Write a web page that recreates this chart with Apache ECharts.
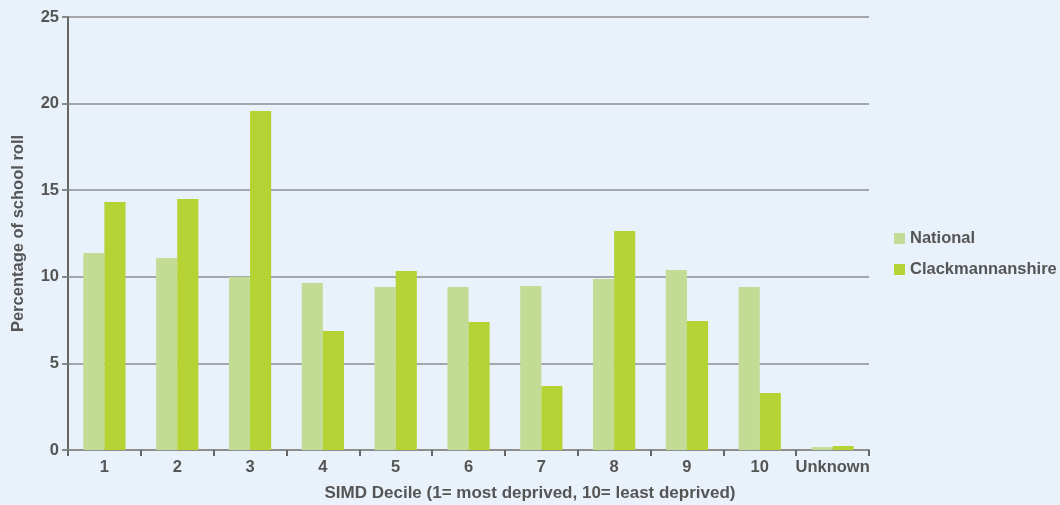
<!DOCTYPE html>
<html>
<head>
<meta charset="utf-8">
<script src="https://cdn.jsdelivr.net/npm/echarts@6/dist/echarts.min.js"></script>
<style>
  html, body { margin: 0; padding: 0; background: #e9f1fa; }
</style>
</head>
<body>
<div id="main" style="width:1060px;height:505px;"></div>
<script>
var deciles = ['1', '2', '3', '4', '5', '6', '7', '8', '9', '10', 'Unknown'];
var national = [11.37, 11.08, 9.99, 9.64, 9.41, 9.41, 9.47, 9.87, 10.39, 9.41, 0.17];
var clackmannanshire = [14.32, 14.49, 19.57, 6.87, 10.33, 7.39, 3.70, 12.64, 7.45, 3.29, 0.23];

var textCol = '#555555';
var chart = echarts.init(document.getElementById('main'));

chart.setOption({
  backgroundColor: '#e9f1fa',
  textStyle: { fontFamily: 'Liberation Sans, Arial, sans-serif' },
  // x-axis title is centred on the whole page, not the plot
  title: {
    text: 'SIMD Decile (1= most deprived, 10= least deprived)',
    left: 'center',
    top: 485,
    padding: 0,
    textStyle: { color: textCol, fontWeight: 'bold', fontSize: 17 }
  },
  grid: { left: 68, right: 191, top: 17, bottom: 55 },
  legend: {
    orient: 'vertical',
    left: 889,
    top: 225,
    itemWidth: 11,
    itemHeight: 11,
    itemGap: 14,
    itemStyle: { borderWidth: 0 },
    icon: 'rect',
    textStyle: { color: textCol, fontWeight: 'bold', fontSize: 16.5 },
    data: ['National', 'Clackmannanshire']
  },
  xAxis: {
    type: 'category',
    data: deciles,
    axisLine: { lineStyle: { color: '#8e8e8e', width: 2 } },
    axisTick: { show: true, interval: 0, length: 6, lineStyle: { color: '#666', width: 2 } },
    axisLabel: { interval: 0, color: textCol, fontWeight: 'bold', fontSize: 16.5, margin: 9 }
  },
  yAxis: {
    type: 'value',
    min: 0,
    max: 25,
    interval: 5,
    name: 'Percentage of school roll',
    nameLocation: 'middle',
    nameGap: 41,
    nameTextStyle: { color: textCol, fontWeight: 'bold', fontSize: 16.5 },
    axisLine: { show: true, lineStyle: { color: '#666', width: 2 } },
    axisTick: { show: true, length: 6, lineStyle: { color: '#888', width: 2 } },
    axisLabel: { color: textCol, fontWeight: 'bold', fontSize: 16.5, margin: 9 },
    splitLine: { lineStyle: { color: '#a4a6aa', width: 2 } }
  },
  series: [
    {
      name: 'National',
      type: 'bar',
      data: national,
      itemStyle: { color: '#c2dc96' },
      barGap: '0%',
      barCategoryGap: '42%'
    },
    {
      name: 'Clackmannanshire',
      type: 'bar',
      data: clackmannanshire,
      itemStyle: { color: '#b5d334' },
      barGap: '0%',
      barCategoryGap: '42%'
    }
  ]
});
</script>
</body>
</html>
